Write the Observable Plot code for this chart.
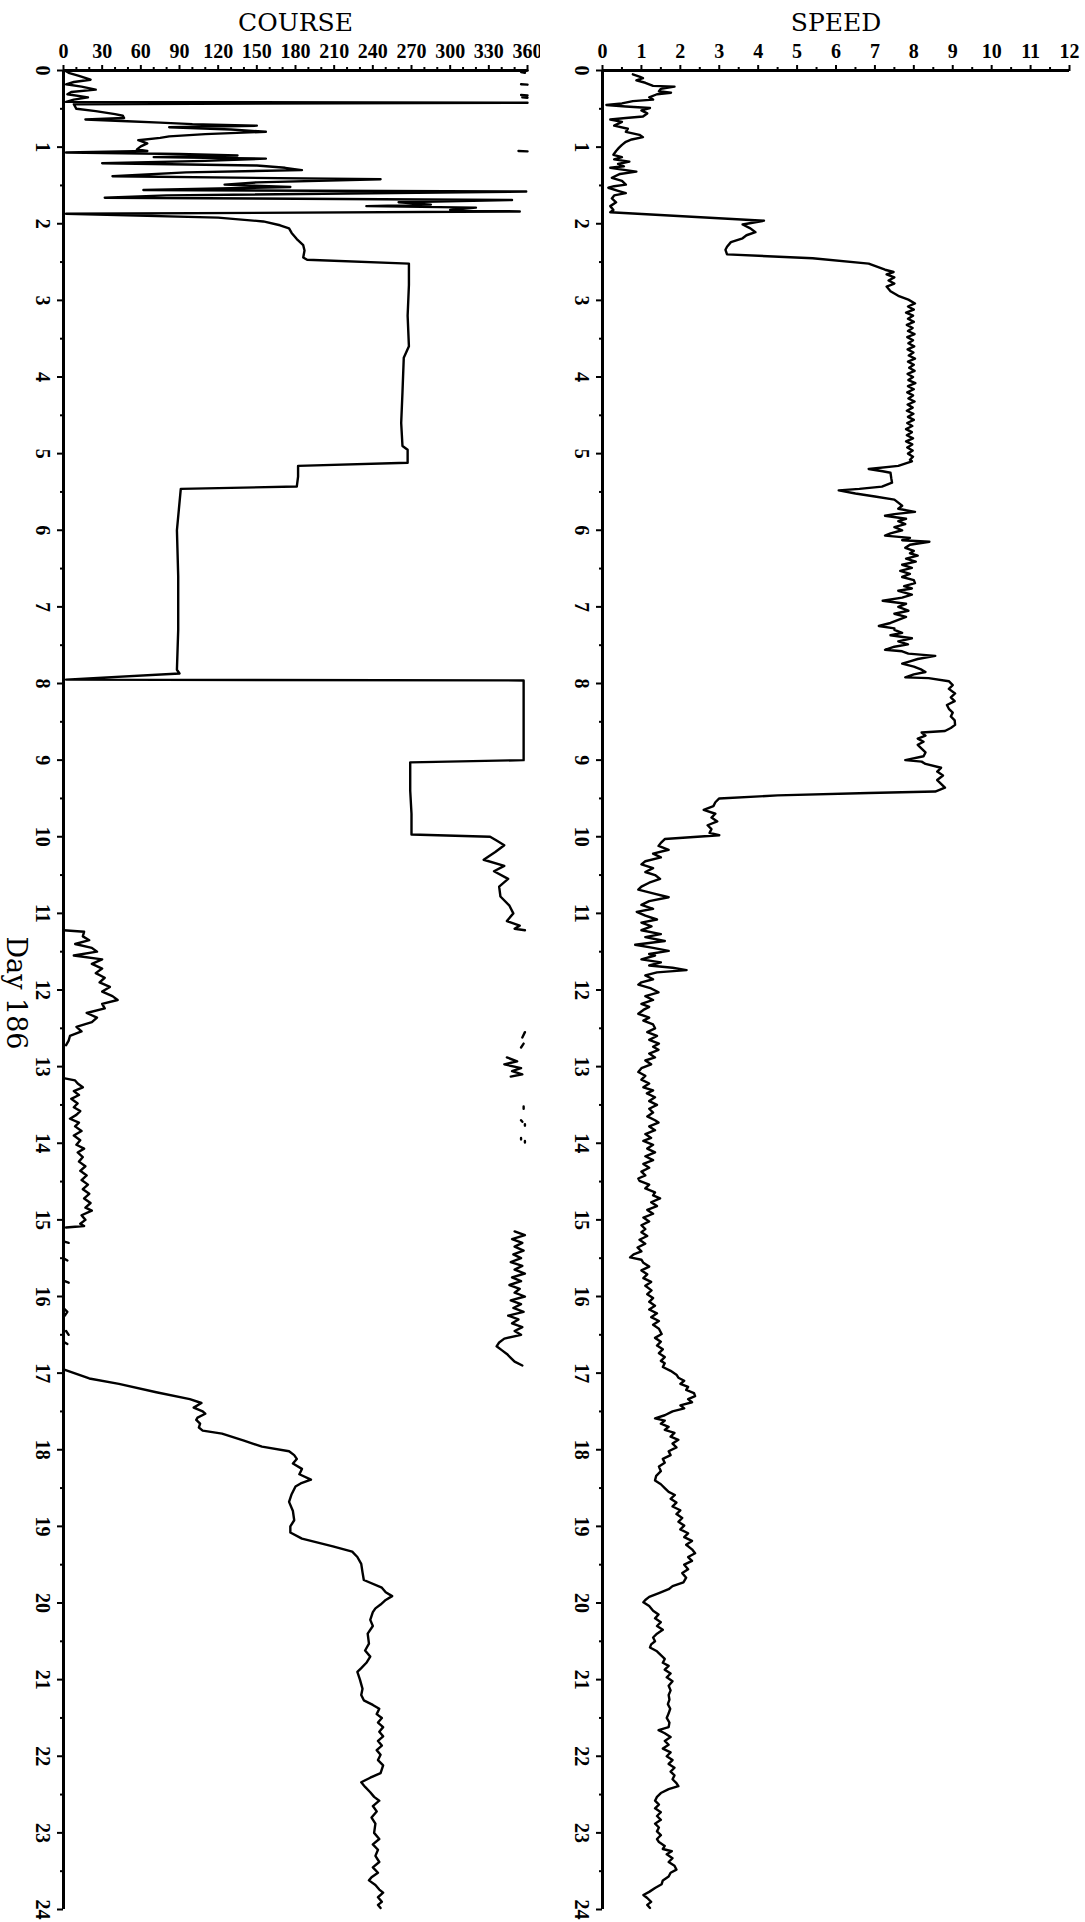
<!DOCTYPE html>
<html>
<head>
<meta charset="utf-8">
<script src="https://cdn.jsdelivr.net/npm/d3@7"></script>
<script src="https://cdn.jsdelivr.net/npm/@observablehq/plot@0.6"></script>
<style>
  html, body { margin: 0; padding: 0; background: #fff; }
  #wrap { position: relative; width: 1085px; height: 1922px; background: #fff; overflow: hidden; }
  #course { position: absolute; left: 0; top: 0; }
  #speed { position: absolute; left: 540px; top: 0; }
  .ticklab text, g[aria-label="x-axis tick label"] text { font-weight: bold; }
</style>
</head>
<body>
<div id="wrap"><div id="course"></div><div id="speed"></div></div>
<script>
// ---------- tick values ----------
const courseTicks = d3.range(0, 361, 30);
const courseMinorTicks = d3.range(10, 360, 10).filter(d => d % 30 !== 0);
const speedTicks = d3.range(0, 13, 1);
const speedMinorTicks = d3.range(0.5, 12, 1);
const hourTicks = d3.range(0, 25, 1);
const hourMinorTicks = d3.range(0.5, 24, 1);
const titles = ["COURSE", "SPEED"];
const dayLabel = "Day 186";

// ---------- COURSE (hour, degrees) segments ----------
const courseSeg1 = [[0.00,1],[0.03,4],[0.07,12],[0.12,21],[0.15,8],[0.18,2],[0.21,14],[0.25,25],[0.28,6],[0.31,3],[0.35,19],[0.38,8],[0.41,2],[0.42,360],[0.44,8],
 [0.50,10],[0.53,25],[0.57,40],[0.59,46],[0.62,47],[0.64,17],[0.66,45],[0.68,75],[0.70,100],[0.72,150],[0.74,82],[0.77,130],[0.80,157],[0.83,110],[0.86,82],[0.88,75],[0.91,58],[0.95,65],[0.99,60],[1.03,57],[1.05,65],[1.07,2],[1.09,90],[1.11,135],[1.13,70],[1.15,157],[1.18,110],[1.21,30],[1.24,150],[1.27,172],[1.30,185],[1.33,95],[1.38,38],[1.42,246],[1.46,150],[1.49,125],[1.52,176],[1.56,62],[1.58,359],[1.63,80],[1.66,32],[1.69,348],[1.72,260],[1.75,285],[1.77,235],[1.79,320],[1.82,300],[1.84,354],[1.87,2],
 [1.92,120],[1.97,155],[2.02,168],[2.06,175],[2.12,177],[2.20,181],[2.28,186],[2.35,187],[2.44,186],[2.47,189],[2.52,268],[2.80,268],[3.20,267],[3.60,268],[3.75,264],[4.20,263],[4.60,262],[4.90,263],[4.95,267],[5.12,267],[5.16,182],[5.30,182],[5.43,181],[5.46,91],[6.00,88],[6.60,89],[7.30,89],[7.82,88],[7.87,90],[7.95,2],[7.96,357],[8.50,357],[9.00,357],[9.03,269],[9.40,269],[9.70,270],[9.97,270],
 [10.00,331],[10.05,336],[10.11,342],[10.20,335],[10.30,326],[10.38,342],[10.45,334],[10.55,345],[10.65,338],[10.78,339],[10.90,346],[11.00,349],[11.10,344],[11.16,354],[11.20,350],[11.22,358]];
const courseSeg2 = [[11.22,0],[11.24,16],[11.30,15],[11.35,20],[11.40,9],[11.45,22],[11.50,26],[11.55,8],[11.60,30],[11.66,22],[11.72,30],[11.78,25],[11.84,32],[11.90,28],[11.96,36],[12.02,30],[12.08,38],[12.13,42],[12.18,30],[12.24,32],[12.30,18],[12.36,26],[12.42,22],[12.48,10],[12.54,14],[12.60,5],[12.66,4],[12.72,2]];
const courseSeg3 = [[12.88,344],[12.93,352],[12.97,342],[13.02,355],[13.06,348],[13.10,356],[13.13,347]];
const courseSeg4 = [[13.15,0],[13.18,9],[13.22,11],[13.27,15],[13.32,8],[13.37,12],[13.42,6],[13.48,11],[13.53,8],[13.58,13],[13.63,10],[13.68,5],[13.73,12],[13.78,9],[13.84,14],[13.90,8],[13.96,13],[14.02,10],[14.07,16],[14.12,11],[14.18,15],[14.24,12],[14.30,17],[14.36,13],[14.42,18],[14.48,14],[14.54,19],[14.60,15],[14.66,20],[14.72,16],[14.78,21],[14.84,17],[14.88,22],[14.94,14],[15.00,17],[15.05,13],[15.08,16],[15.10,2]];
const courseSeg5 = [[15.15,350],[15.20,358],[15.25,348],[15.30,356],[15.35,350],[15.40,357],[15.45,349],[15.50,355],[15.55,347],[15.60,356],[15.65,350],[15.70,358],[15.75,348],[15.80,355],[15.85,346],[15.90,354],[15.95,350],[16.00,358],[16.05,347],[16.10,355],[16.15,349],[16.20,357],[16.25,345],[16.30,353],[16.35,348],[16.40,356],[16.45,350],[16.50,355],[16.55,342],[16.60,338],[16.65,336],[16.70,340],[16.75,344],[16.80,347],[16.85,350],[16.90,356]];
const courseSeg6 = [[16.95,0],[17.07,20],[17.14,43],[17.25,72],[17.34,98],[17.39,107],[17.45,101],[17.50,108],[17.53,110],[17.58,104],[17.61,103],[17.66,106],[17.71,105],[17.75,108],[17.79,123],[17.88,140],[17.96,154],[18.02,175],[18.07,179],[18.12,181],[18.18,178],[18.25,185],[18.32,183],[18.39,192],[18.44,184],[18.48,180],[18.58,177],[18.68,175],[18.80,178],[18.92,179],[19.00,176],[19.08,176],[19.16,185],[19.26,209],[19.33,224],[19.40,228],[19.49,231],[19.60,232],[19.70,233],[19.80,247],[19.86,250],[19.91,255],[19.96,250],[20.02,246],[20.07,242],[20.12,240],[20.22,238],[20.30,240],[20.40,236],[20.53,237],[20.62,234],[20.70,238],[20.78,235],[20.85,231],[20.90,228],[21.00,230],[21.12,232],[21.20,231],[21.27,233],[21.33,240],[21.38,245],[21.45,243],[21.50,247],[21.56,244],[21.62,248],[21.68,245],[21.74,248],[21.80,244],[21.86,247],[21.92,243],[21.98,246],[22.05,244],[22.12,248],[22.22,246],[22.28,238],[22.34,231],[22.40,234],[22.47,238],[22.53,241],[22.58,245],[22.65,240],[22.72,243],[22.80,239],[22.88,242],[23.00,241],[23.08,245],[23.15,240],[23.22,244],[23.30,242],[23.38,245],[23.45,240],[23.52,244],[23.58,239],[23.62,237],[23.68,242],[23.74,245],[23.78,248],[23.84,244],[23.90,247],[23.94,244],[23.98,246]];
// short isolated fragments (wrap-around near 360 and near 0)
const courseBits = [
 [[0.00,360],[0.02,355],[0.03,358]],
 [[0.18,355],[0.185,360]],
 [[0.32,355],[0.325,360]],
 [[0.35,356],[0.355,360]],
 [[1.05,353],[1.055,360]],
 [[12.55,358],[12.62,356]],
 [[12.70,357],[12.75,355]],
 [[13.52,357],[13.55,357]],
 [[13.70,355],[13.72,356]],
 [[13.75,358],[13.77,358]],
 [[13.93,355],[13.95,355]],
 [[13.97,358],[13.99,358]],
 [[15.28,0],[15.30,4]],
 [[15.50,0],[15.53,3]],
 [[15.80,1],[15.82,4]],
 [[16.15,0],[16.20,3],[16.25,1]],
 [[16.45,2],[16.50,4]],
 [[16.60,1],[16.62,3]]
];

// ---------- SPEED (hour, knots) ----------
const speedSeries = [[0.05,0.78],[0.08,0.95],[0.10,1.04],[0.13,0.87],[0.16,1.1],[0.20,1.3],[0.21,1.85],[0.24,1.5],[0.27,1.45],[0.29,1.76],[0.31,1.4],[0.35,1.2],[0.38,1.3],[0.40,0.78],[0.43,0.5],[0.45,0.1],[0.47,0.6],[0.49,1.22],[0.52,1.0],[0.56,1.15],[0.60,1.04],[0.62,0.6],[0.64,0.2],[0.67,0.5],[0.72,0.3],[0.76,0.65],[0.80,0.6],[0.84,0.95],[0.87,1.04],[0.90,0.75],[0.93,0.6],[0.97,0.5],[1.01,0.42],[1.05,0.35],[1.10,0.28],[1.13,0.5],[1.16,0.3],[1.19,0.69],[1.22,0.4],[1.25,0.55],[1.27,0.2],[1.30,0.6],[1.32,0.87],[1.35,0.45],[1.40,0.24],[1.44,0.5],[1.49,0.6],[1.51,0.3],[1.53,0.15],[1.57,0.4],[1.60,0.6],[1.63,0.3],[1.67,0.24],[1.72,0.35],[1.77,0.2],[1.82,0.28],[1.85,0.2],
 [1.96,4.15],[2.01,3.6],[2.06,3.8],[2.11,3.93],[2.15,3.7],[2.19,3.6],[2.24,3.3],[2.30,3.2],[2.34,3.16],[2.40,3.2],[2.45,5.4],[2.52,6.84],[2.60,7.26],[2.63,7.48],[2.66,7.3],[2.70,7.5],[2.74,7.35],[2.78,7.5],[2.82,7.3],[2.88,7.4],[2.94,7.6],[2.99,7.86],[3.04,8.03],[3.08,7.85],[3.12,8.0],[3.16,7.8],[3.20,7.98],
 [3.24,7.85],[3.28,8.0],[3.32,7.82],[3.36,7.97],[3.40,7.85],[3.44,8.02],[3.48,7.83],[3.52,7.98],[3.56,7.86],[3.60,8.01],[3.64,7.84],[3.68,7.99],[3.72,7.87],[3.76,8.03],[3.80,7.85],[3.84,8.0],[3.88,7.88],[3.92,8.02],[3.96,7.84],[4.00,7.98],[4.04,7.86],[4.08,8.04],[4.12,7.85],[4.16,8.0],[4.20,7.83],[4.24,7.98],[4.28,7.86],[4.32,8.02],[4.36,7.84],[4.40,7.97],[4.44,7.82],[4.48,7.99],[4.52,7.85],[4.56,8.0],[4.60,7.83],[4.64,7.96],[4.68,7.8],[4.72,7.95],[4.76,7.82],[4.80,7.98],[4.84,7.8],[4.88,7.96],[4.92,7.83],[4.96,7.97],[5.00,7.85],[5.04,7.98],[5.08,7.9],[5.10,7.95],
 [5.16,7.6],[5.20,6.84],[5.23,7.2],[5.25,7.4],[5.32,7.42],[5.38,7.44],[5.43,7.18],[5.46,6.6],[5.48,6.07],[5.52,6.5],[5.56,7.0],[5.60,7.5],[5.64,7.6],[5.68,7.7],[5.72,7.6],[5.76,8.03],[5.79,7.5],[5.81,7.26],[5.85,7.8],[5.88,7.6],[5.92,7.78],[5.96,7.5],[6.00,7.7],[6.04,7.4],[6.07,7.26],[6.10,7.9],[6.13,7.7],[6.15,8.4],[6.19,7.9],[6.23,7.78],[6.27,8.0],[6.30,7.9],[6.33,8.1],[6.37,7.8],[6.41,8.05],[6.45,7.7],[6.49,7.95],[6.53,7.65],[6.57,7.9],[6.61,7.7],[6.65,8.0],[6.69,8.03],[6.73,7.75],[6.76,7.95],[6.79,7.6],[6.84,7.95],[6.88,7.7],[6.92,7.2],[6.96,7.8],[7.00,7.6],[7.05,7.86],[7.09,7.5],[7.13,7.8],[7.17,7.6],[7.21,7.4],[7.25,7.1],[7.28,7.5],[7.30,7.5],[7.34,7.7],[7.37,7.4],[7.41,7.95],[7.45,7.6],[7.49,7.85],[7.52,7.5],[7.56,7.26],[7.58,7.7],[7.61,7.86],[7.64,8.55],[7.68,8.1],[7.71,7.9],[7.74,7.7],[7.78,8.0],[7.82,8.2],[7.85,8.3],[7.88,8.0],[7.92,7.78],[7.93,8.38],[7.97,8.9],[8.02,9.0],[8.07,8.9],[8.13,9.06],[8.18,8.95],[8.23,9.05],[8.28,8.85],[8.33,8.9],[8.38,9.0],[8.43,8.95],[8.48,9.05],[8.54,9.06],[8.58,8.95],[8.62,8.8],[8.64,8.2],[8.68,8.3],[8.72,8.1],[8.76,8.25],[8.80,8.1],[8.85,8.2],[8.90,8.3],[8.95,8.25],[9.00,7.78],[9.02,8.2],[9.05,8.3],[9.10,8.7],[9.15,8.6],[9.20,8.75],[9.26,8.6],[9.31,8.7],[9.36,8.8],[9.41,8.55],[9.43,6.84],[9.46,4.5],[9.50,3.0],[9.55,2.9],[9.60,2.85],[9.65,2.6],[9.70,2.9],[9.75,2.8],[9.80,2.95],[9.85,2.7],[9.90,2.8],[9.95,2.75],[9.98,3.0],
 [10.03,1.6],[10.08,1.5],[10.12,1.44],[10.17,1.7],[10.22,1.3],[10.27,1.5],[10.32,1.1],[10.36,1.0],[10.41,1.3],[10.46,1.1],[10.50,1.35],[10.55,1.48],[10.60,1.2],[10.65,1.0],[10.69,0.92],[10.74,1.3],[10.79,1.7],[10.84,1.2],[10.89,1.0],[10.94,1.3],[10.98,0.88],[11.03,1.1],[11.08,1.4],[11.12,1.0],[11.17,1.26],[11.22,1.0],[11.27,1.5],[11.31,1.1],[11.36,1.6],[11.41,0.84],[11.45,1.3],[11.49,1.7],[11.53,1.2],[11.55,1.35],[11.60,1.0],[11.64,1.5],[11.68,1.2],[11.71,1.8],[11.74,2.16],[11.77,1.4],[11.81,1.1],[11.86,1.3],[11.90,1.0],[11.93,0.92],[11.98,1.25],[12.03,1.44],[12.08,1.1],[12.13,1.3],[12.18,1.0],[12.22,1.2],[12.26,1.05],[12.31,0.92],[12.36,1.2],[12.40,1.05],[12.45,1.3],[12.50,1.35],[12.55,1.15],[12.60,1.4],[12.65,1.2],[12.70,1.45],[12.74,1.3],[12.78,1.44],[12.83,1.2],[12.88,1.35],[12.92,1.1],[12.97,1.25],[13.02,1.0],[13.07,0.92],[13.12,1.1],[13.17,1.0],[13.22,1.2],[13.27,1.05],[13.31,1.3],[13.35,1.14],[13.40,1.35],[13.45,1.2],[13.50,1.4],[13.55,1.2],[13.60,1.3],[13.65,1.15],[13.70,1.35],[13.73,1.44],[13.78,1.2],[13.83,1.35],[13.88,1.1],[13.93,1.25],[13.97,1.05],[14.02,1.3],[14.07,1.15],[14.12,1.35],[14.17,1.1],[14.22,1.3],[14.27,1.05],[14.32,1.2],[14.37,1.0],[14.42,1.1],[14.46,0.92],[14.49,0.95],[14.54,1.2],[14.59,1.1],[14.64,1.35],[14.68,1.3],[14.72,1.48],[14.77,1.25],[14.82,1.4],[14.87,1.15],[14.92,1.3],[14.97,1.05],[15.02,1.2],[15.07,1.0],[15.12,1.1],[15.16,1.0],[15.21,1.15],[15.26,0.95],[15.31,1.1],[15.36,0.9],[15.41,1.0],[15.45,0.8],[15.49,0.71],[15.52,1.0],[15.56,1.05],[15.61,1.2],[15.66,1.0],[15.71,1.15],[15.76,1.05],[15.81,1.25],[15.86,1.1],[15.92,1.26],[15.97,1.15],[16.02,1.3],[16.07,1.2],[16.12,1.35],[16.17,1.2],[16.22,1.4],[16.27,1.25],[16.32,1.45],[16.37,1.3],[16.42,1.45],[16.49,1.52],[16.54,1.35],[16.59,1.5],[16.64,1.4],[16.69,1.55],[16.74,1.45],[16.79,1.6],[16.84,1.5],[16.87,1.6],[16.92,1.55],[16.97,1.75],
 [17.02,1.9],[17.06,1.95],[17.10,2.1],[17.14,2.0],[17.18,2.2],[17.22,2.15],[17.26,2.35],[17.30,2.38],[17.34,2.2],[17.38,2.3],[17.42,2.0],[17.46,2.1],[17.50,1.8],[17.55,1.6],[17.59,1.35],[17.62,1.6],[17.66,1.5],[17.70,1.7],[17.74,1.6],[17.78,1.85],[17.83,1.75],[17.87,1.95],[17.92,1.8],[17.97,1.9],[18.02,1.7],[18.07,1.75],[18.12,1.55],[18.17,1.6],[18.22,1.45],[18.28,1.5],[18.34,1.38],[18.40,1.35],[18.45,1.5],[18.50,1.6],[18.55,1.7],[18.59,1.86],[18.64,1.75],[18.69,1.9],[18.74,1.8],[18.79,2.0],[18.84,1.9],[18.89,2.05],[18.94,1.95],[18.99,2.1],[19.04,2.0],[19.09,2.2],[19.14,2.1],[19.19,2.3],[19.24,2.15],[19.30,2.3],[19.35,2.38],[19.40,2.2],[19.45,2.3],[19.50,2.1],[19.56,2.2],[19.61,2.05],[19.67,2.15],[19.73,2.08],[19.78,1.8],[19.82,1.7],[19.87,1.45],[19.92,1.2],[19.96,1.1],[19.99,1.05],
 [20.04,1.2],[20.10,1.3],[20.15,1.44],[20.20,1.35],[20.25,1.5],[20.30,1.4],[20.35,1.55],[20.40,1.4],[20.45,1.3],[20.50,1.35],[20.54,1.25],[20.58,1.22],[20.63,1.4],[20.68,1.5],[20.73,1.6],[20.78,1.55],[20.82,1.7],[20.87,1.6],[20.92,1.75],[20.97,1.65],[21.02,1.8],[21.08,1.7],[21.14,1.75],[21.20,1.7],[21.26,1.72],[21.32,1.68],[21.38,1.74],[21.44,1.7],[21.50,1.65],[21.56,1.72],[21.62,1.7],[21.66,1.44],[21.70,1.6],[21.75,1.75],[21.80,1.6],[21.85,1.7],[21.90,1.55],[21.95,1.75],[22.00,1.65],[22.05,1.8],[22.10,1.7],[22.15,1.85],[22.20,1.75],[22.25,1.85],[22.30,1.8],[22.35,1.9],[22.39,1.95],[22.43,1.7],[22.48,1.5],[22.53,1.4],[22.58,1.35],[22.63,1.45],[22.68,1.35],[22.73,1.5],[22.78,1.4],[22.83,1.5],[22.88,1.35],[22.93,1.45],[22.98,1.4],[23.03,1.5],[23.08,1.4],[23.12,1.45],[23.17,1.6],[23.21,1.55],[23.24,1.78],[23.28,1.65],[23.33,1.8],[23.38,1.7],[23.43,1.85],[23.48,1.9],[23.52,1.75],[23.57,1.7],[23.62,1.55],[23.67,1.52],[23.72,1.35],[23.77,1.2],[23.81,1.05],[23.85,1.15],[23.90,1.25],[23.94,1.15],[23.98,1.22]];

// ---------- build tables (NaN rows break the line) ----------
function join(segments) {
  const out = [];
  segments.forEach((seg, i) => {
    if (i > 0) out.push({h: NaN, v: NaN});
    seg.forEach(([h, v]) => out.push({h, v}));
  });
  return out;
}
const courseData = join([courseSeg1, courseSeg2, courseSeg3, courseSeg4, courseSeg5, courseSeg6, ...courseBits]);
const speedData = join([speedSeries]);

const SERIF = "'DejaVu Serif', 'Liberation Serif', serif";
const TICKFONT = "'Liberation Serif', 'DejaVu Serif', serif";

function panel({width, marginLeft, marginRight, domain, major, minor, data, title, withDay}) {
  const marks = [
    Plot.line(data, {x: "v", y: "h", stroke: "#000", strokeWidth: 2.4, strokeLinejoin: "round"}),
    Plot.ruleX([domain[0]], {stroke: "#000", strokeWidth: 3}),
    Plot.ruleY([0], {stroke: "#000", strokeWidth: 3}),
    Plot.axisX(major, {anchor: "top", tickSize: 6, tickPadding: 7, strokeWidth: 2, label: null,
      fontSize: 20, fontWeight: "bold", fontFamily: TICKFONT, fill: "#000"}),
    Plot.axisX(minor, {anchor: "top", tickSize: 4, strokeWidth: 2, label: null, tickFormat: () => ""}),
    Plot.axisY(hourTicks, {anchor: "left", tickSize: 6, strokeWidth: 2, label: null, tickFormat: () => ""}),
    Plot.axisY(hourMinorTicks, {anchor: "left", tickSize: 3, strokeWidth: 2, label: null, tickFormat: () => ""}),
    Plot.text(hourTicks, {y: d => d, text: d => String(d), frameAnchor: "left", dx: -21, rotate: 90,
      fontSize: 20, fontWeight: "bold", fontFamily: TICKFONT, textAnchor: "middle", lineAnchor: "middle", fill: "#000"}),
    Plot.text([title], {frameAnchor: "top", dy: -40, lineAnchor: "bottom", fontSize: 25,
      fontFamily: SERIF, fill: "#000", text: d => d})
  ];
  if (withDay) {
    marks.push(Plot.text([dayLabel], {frameAnchor: "left", dx: -48, dy: 3, rotate: 90, fontSize: 27,
      fontFamily: SERIF, fill: "#000", textAnchor: "middle", lineAnchor: "middle", text: d => d}));
  }
  return Plot.plot({
    width, height: 1922,
    marginLeft, marginRight, marginTop: 70, marginBottom: 13,
    x: {domain, axis: null},
    y: {domain: [0, 24], reverse: true, axis: null},
    style: {background: "#fff", color: "#000", fontFamily: SERIF, overflow: "visible"},
    marks
  });
}

document.getElementById("course").appendChild(panel({
  width: 540, marginLeft: 63, marginRight: 13, domain: [0, 360],
  major: courseTicks, minor: courseMinorTicks, data: courseData, title: titles[0], withDay: true
}));
document.getElementById("speed").appendChild(panel({
  width: 545, marginLeft: 62, marginRight: 16, domain: [0, 12],
  major: speedTicks, minor: speedMinorTicks, data: speedData, title: titles[1], withDay: false
}));
</script>
</body>
</html>
